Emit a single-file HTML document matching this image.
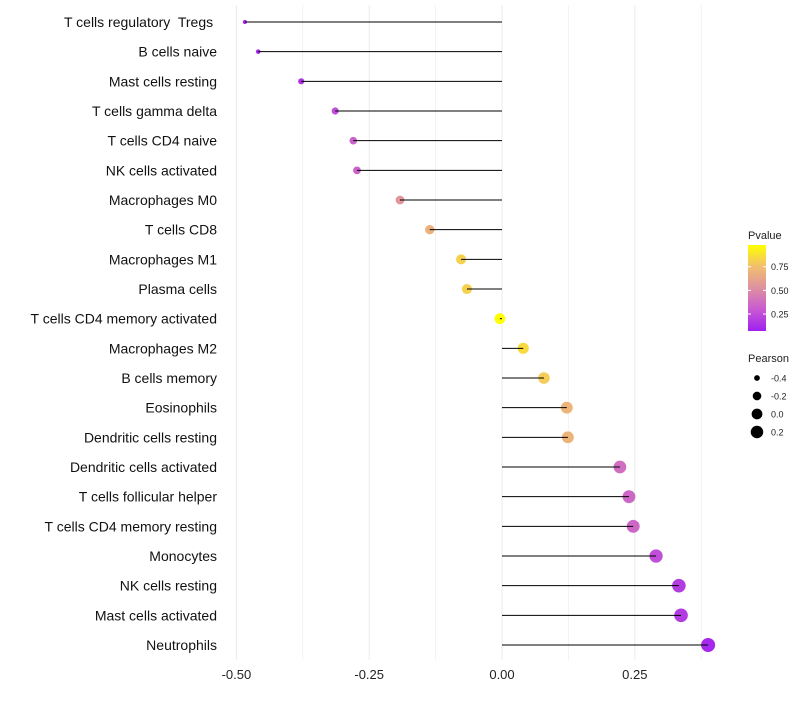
<!DOCTYPE html>
<html><head><meta charset="utf-8"><style>
body{margin:0;background:#fff;font-family:"Liberation Sans",sans-serif}
</style></head><body>
<svg id="c" width="800" height="700"></svg>
<script>
const categories=["T cells regulatory  Tregs ","B cells naive","Mast cells resting","T cells gamma delta","T cells CD4 naive","NK cells activated","Macrophages M0","T cells CD8","Macrophages M1","Plasma cells","T cells CD4 memory activated","Macrophages M2","B cells memory","Eosinophils","Dendritic cells resting","Dendritic cells activated","T cells follicular helper","T cells CD4 memory resting","Monocytes","NK cells resting","Mast cells activated","Neutrophils"];
const pearson=[-0.484,-0.459,-0.378,-0.314,-0.280,-0.273,-0.192,-0.136,-0.077,-0.066,-0.004,0.040,0.079,0.122,0.124,0.222,0.239,0.247,0.290,0.333,0.337,0.388];
const pvalue=[0.08,0.1,0.15,0.25,0.33,0.33,0.55,0.68,0.82,0.82,0.99,0.85,0.8,0.7,0.7,0.38,0.35,0.35,0.25,0.18,0.18,0.1];
const xTicks=[-0.5,-0.25,0,0.25];
const xTickLabels=["-0.50","-0.25","0.00","0.25"];
const legendPTicks=[0.25,0.5,0.75];
const legendSizes=[-0.4,-0.2,0.0,0.2];
const legendSizeLabels=["-0.4","-0.2","0.0","0.2"];

const svg=document.getElementById('c');const NS="http://www.w3.org/2000/svg";
function el(t,a,p){const e=document.createElementNS(NS,t);for(const k in a)e.setAttribute(k,a[k]);(p||svg).appendChild(e);return e;}
const x=v=>502+v*531.2;
const y=i=>22+i*29.667;
const r=v=>Math.sqrt(Math.max(2.5,29+51.7*v));
function lerp(a,b,t){return a.map((c,i)=>Math.round(c+(b[i]-c)*t));}
function col(p){const t=Math.max(0,Math.min(1,(p-0.07)/0.91));const s=[[160,32,240],[200,90,210],[222,145,160],[242,190,110],[255,255,0]];
 const f=t*4,i=Math.min(3,Math.floor(f));const c=lerp(s[i],s[i+1],f-i);return `rgb(${c})`;}
for(let v=-0.5;v<=0.4;v+=0.125){const g=el('line',{x1:x(v),x2:x(v),y1:5,y2:660,stroke:'#ebebeb','stroke-width':Math.abs(v*8%2)<1e-6?1:0.6});
}
xTicks.forEach((v,i)=>{const t=el('text',{x:x(v),y:679,'text-anchor':'middle','font-size':13,fill:'#222'});t.textContent=xTickLabels[i];
});
categories.forEach((c,i)=>{
 const t=el('text',{x:217,y:y(i)+5,'text-anchor':'end','font-size':14,fill:'#111'});t.textContent=c;
 t.setAttribute('style','white-space:pre');
 
 const d=el('circle',{cx:x(pearson[i]),cy:y(i),r:r(pearson[i]),fill:col(pvalue[i])});
 
 const l=el('line',{x1:x(0),x2:x(pearson[i]),y1:y(i),y2:y(i),stroke:'#000','stroke-width':1});
 
});
const lt=el('text',{x:748,y:239,'font-size':11,fill:'#222'});lt.textContent='Pvalue';

const defs=el('defs',{});const gr=el('linearGradient',{id:'g',x1:0,y1:1,x2:0,y2:0},defs);
[0,0.25,0.5,0.75,1].forEach(o=>el('stop',{offset:o,'stop-color':col(0.07+o*0.91)},gr));
const cb=el('rect',{x:748,y:245,width:18,height:86,fill:'url(#g)'});

legendPTicks.forEach(p=>{const yy=331-(p-0.07)/0.91*86;
 el('line',{x1:748,x2:751,y1:yy,y2:yy,stroke:'#fff'});el('line',{x1:763,x2:766,y1:yy,y2:yy,stroke:'#fff'});
 const t=el('text',{x:771,y:yy+3.5,'font-size':9,fill:'#222'});t.textContent=p.toFixed(2);
 });
const st=el('text',{x:748,y:362,'font-size':11,fill:'#222'});st.textContent='Pearson';

legendSizes.forEach((v,i)=>{const yy=378+i*18;
 const c=el('circle',{cx:757,cy:yy,r:r(v),fill:'#000'});
 const t=el('text',{x:771,y:yy+3.5,'font-size':9,fill:'#222'});t.textContent=legendSizeLabels[i];
 });
</script></body></html>
